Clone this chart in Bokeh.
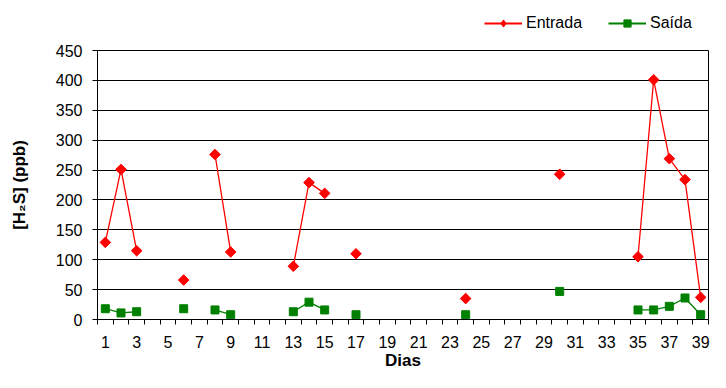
import math
from bokeh.plotting import figure
from bokeh.layouts import column
from bokeh.models import FixedTicker, Legend, LegendItem, ColumnDataSource, Range1d
from bokeh.embed import file_html
from bokeh.resources import INLINE

# ---- data ----
dias = [1, 2, 3, 6, 8, 9, 13, 14, 15, 17, 24, 30, 35, 36, 37, 38, 39]
entrada = [129, 251, 115, 66, 276, 113, 89, 229, 211, 110, 35, 243, 105, 401, 269, 234, 37]
saida = [18, 11, 13, 18, 16, 8, 13, 29, 16, 8, 8, 47, 16, 16, 22, 36, 8]
all_days = list(range(1, 40))
x_labels = list(range(1, 40, 2))
y_ticks = list(range(0, 451, 50))
series_names = ["Entrada", "Saída"]

ent_map = dict(zip(dias, entrada))
sai_map = dict(zip(dias, saida))
full_ent = [ent_map.get(d, float("nan")) for d in all_days]
full_sai = [sai_map.get(d, float("nan")) for d in all_days]

src_line = ColumnDataSource(dict(x=all_days, ent=full_ent, sai=full_sai))
src_pts = ColumnDataSource(dict(x=dias, ent=entrada, sai=saida))

FONT = "Liberation Sans"
RED = "#FF0000"
GREEN = "#008000"

# ---------------- main plot ----------------
p = figure(width=710, height=328, output_backend="svg", toolbar_location=None,
           x_range=Range1d(0.5, 39.5), y_range=Range1d(0, 450),
           min_border_left=97, min_border_right=2, min_border_top=6, min_border_bottom=50)
p.background_fill_color = "white"
p.border_fill_color = "white"
p.outline_line_color = "black"
p.outline_line_width = 1

p.xgrid.grid_line_color = None
p.ygrid.grid_line_color = "black"
p.ygrid.grid_line_width = 1
p.ygrid.ticker = FixedTicker(ticks=y_ticks)

xa = p.xaxis[0]
xa.ticker = FixedTicker(ticks=x_labels, minor_ticks=[d + 0.5 for d in range(0, 40)])
xa.major_tick_out = 0
xa.major_tick_in = 0
xa.minor_tick_out = 5
xa.minor_tick_in = 0
xa.minor_tick_line_color = "black"
xa.axis_line_color = "black"
xa.major_label_text_font = FONT
xa.major_label_text_font_size = "16px"
xa.major_label_text_color = "black"
xa.major_label_standoff = 11
xa.axis_label = "Dias"
xa.axis_label_text_font = FONT
xa.axis_label_text_font_size = "17px"
xa.axis_label_text_font_style = "bold"
xa.axis_label_text_color = "black"
xa.axis_label_standoff = 0

ya = p.yaxis[0]
ya.ticker = FixedTicker(ticks=y_ticks)
ya.major_tick_out = 5
ya.major_tick_in = 0
ya.minor_tick_out = 0
ya.minor_tick_in = 0
ya.axis_line_color = "black"
ya.major_tick_line_color = "black"
ya.major_label_text_font = FONT
ya.major_label_text_font_size = "16px"
ya.major_label_text_color = "black"
ya.major_label_standoff = 10
ya.axis_label = "[H\u2082S] (ppb)"
ya.axis_label_text_font = FONT
ya.axis_label_text_font_size = "17px"
ya.axis_label_text_font_style = "bold"
ya.axis_label_text_color = "black"
ya.axis_label_standoff = 24

p.line("x", "ent", source=src_line, line_color=RED, line_width=1.3)
p.scatter("x", "ent", source=src_pts, marker="square", angle=math.pi / 4,
          size=7.5, fill_color=RED, line_color=RED)
p.line("x", "sai", source=src_line, line_color=GREEN, line_width=1.3)
p.scatter("x", "sai", source=src_pts, marker="square",
          size=8, fill_color=GREEN, line_color=GREEN)

# ---------------- legend strip ----------------
lg = figure(width=710, height=44, output_backend="svg", toolbar_location=None,
            x_range=Range1d(0, 1), y_range=Range1d(0, 1),
            x_axis_location=None, y_axis_location=None,
            min_border_left=0, min_border_right=0, min_border_top=0, min_border_bottom=0)
lg.outline_line_color = None
lg.grid.visible = False
nan = float("nan")
rl1 = lg.line([nan], [nan], line_color=RED, line_width=2)
rs1 = lg.scatter([nan], [nan], marker="diamond", size=11, fill_color=RED, line_color=RED)
rl2 = lg.line([nan], [nan], line_color=GREEN, line_width=2)
rs2 = lg.scatter([nan], [nan], marker="square", size=7, fill_color=GREEN, line_color=GREEN)

legend = Legend(items=[LegendItem(label=series_names[0], renderers=[rl1, rs1]),
                       LegendItem(label=series_names[1], renderers=[rl2, rs2])],
                orientation="horizontal", location=(387, 12))
legend.padding = 0
legend.margin = 0
legend.spacing = 26
legend.glyph_width = 38
legend.glyph_height = 18
legend.label_height = 18
legend.label_standoff = 4
legend.label_text_font = FONT
legend.label_text_font_size = "16px"
legend.label_text_color = "black"
legend.border_line_color = None
legend.background_fill_alpha = 0
lg.add_layout(legend, "center")

layout = column(lg, p, spacing=0)
open("out.html", "w").write(file_html(layout, INLINE))
